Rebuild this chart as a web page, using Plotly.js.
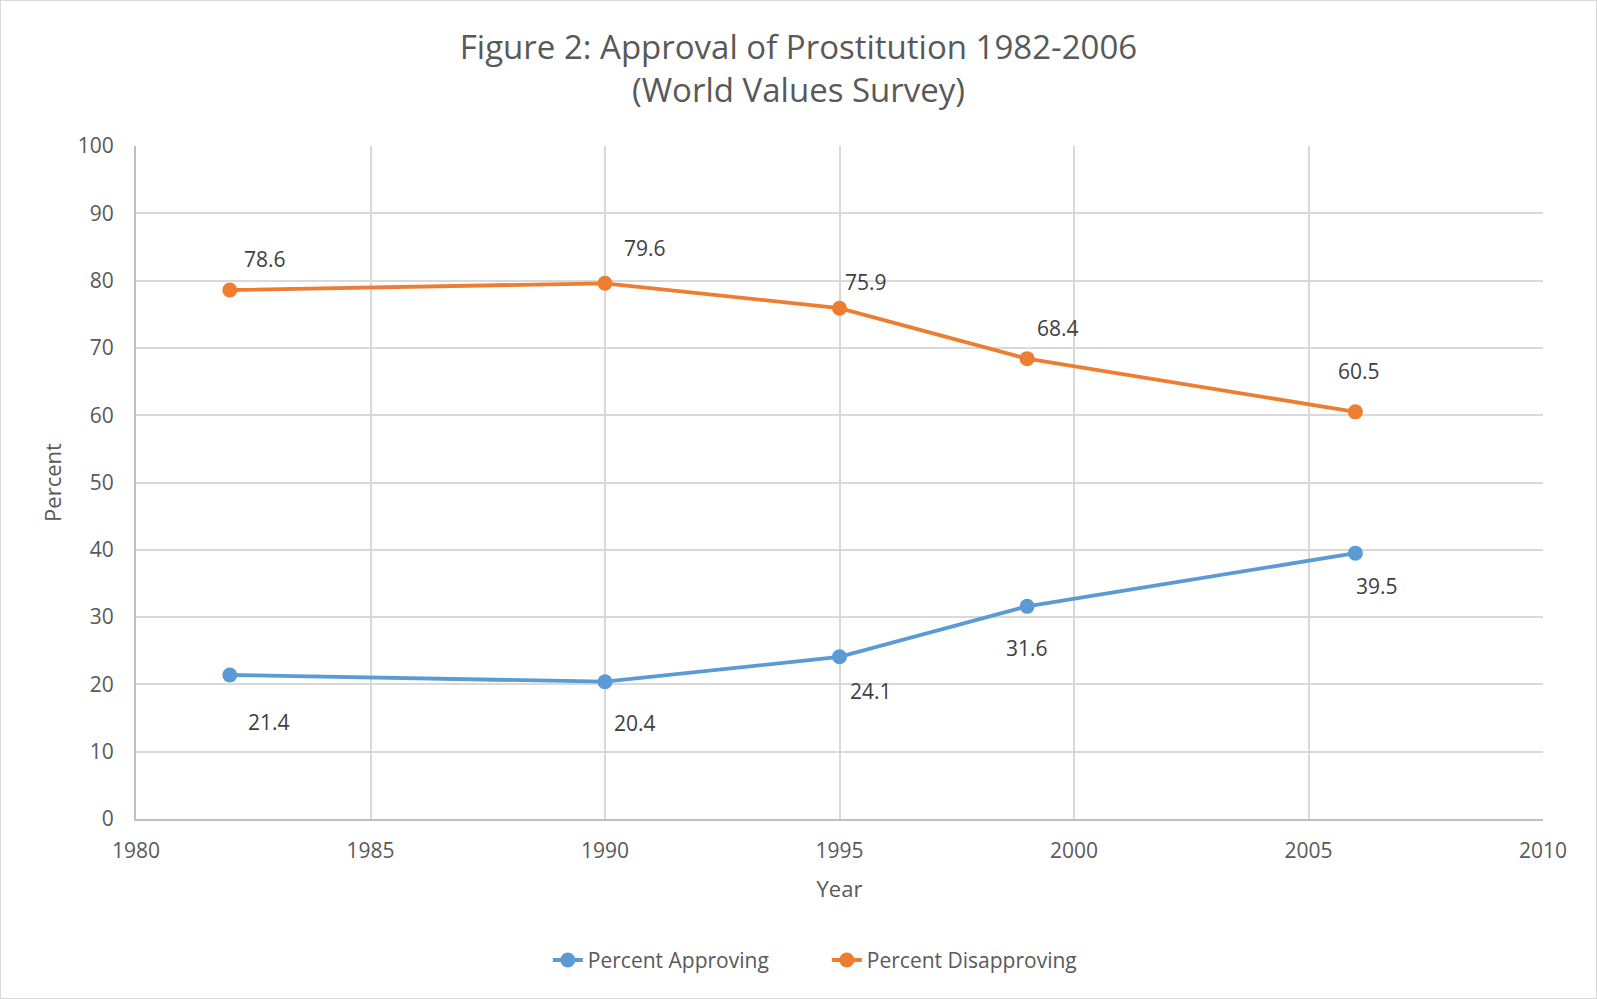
<!DOCTYPE html>
<html>
<head>
<meta charset="utf-8">
<script src="https://cdn.plot.ly/plotly-3.0.1.min.js"></script>
<style>
  html, body { margin: 0; padding: 0; background: #ffffff; }
  #wrap { position: relative; width: 1597px; height: 999px; }
  #chart { width: 1597px; height: 999px; }
  #frame { position: absolute; left: 0; top: 0; width: 1595px; height: 997px; border: 1px solid #d9d9d9; pointer-events: none; }
</style>
</head>
<body>
<div id="wrap"><div id="chart"></div><div id="frame"></div></div>
<script>
// Data
const years = [1982, 1990, 1995, 1999, 2006];
const approving = [21.4, 20.4, 24.1, 31.6, 39.5];
const disapproving = [78.6, 79.6, 75.9, 68.4, 60.5];
const seriesNames = ["Percent Approving", "Percent Disapproving"];
const xTicks = [1980, 1985, 1990, 1995, 2000, 2005, 2010];
const yTicks = [0, 10, 20, 30, 40, 50, 60, 70, 80, 90, 100];

// Label offsets (pixels) for data labels (styling)
const approvingLabelShift = [[39, -47], [30, -41], [31, -34], [0, -42], [22, -33]];
const disapprovingLabelShift = [[35, 31], [40, 35], [26, 26], [31, 31], [4, 41]];

const blue = "#5B9BD5";
const orange = "#ED7D31";
const font = "'Open Sans', 'Noto Sans', sans-serif";

const traces = [
  {
    x: years, y: approving, name: seriesNames[0], type: "scatter", mode: "lines+markers",
    line: { color: blue, width: 3.8 },
    marker: { color: blue, size: 15 }
  },
  {
    x: years, y: disapproving, name: seriesNames[1], type: "scatter", mode: "lines+markers",
    line: { color: orange, width: 3.8 },
    marker: { color: orange, size: 15 }
  }
];

const annotations = [];
function addLabels(vals, shifts) {
  vals.forEach((v, i) => {
    annotations.push({
      x: years[i], y: v, xref: "x", yref: "y", text: v.toFixed(1), showarrow: false,
      xshift: shifts[i][0], yshift: shifts[i][1],
      font: { family: font, size: 21, color: "#404040" }
    });
  });
}
addLabels(approving, approvingLabelShift);
addLabels(disapproving, disapprovingLabelShift);

const layout = {
  width: 1597, height: 999,
  paper_bgcolor: "#ffffff", plot_bgcolor: "#ffffff",
  margin: { l: 136, r: 54, t: 146, b: 180 },
  title: {
    text: "Figure 2: Approval of Prostitution 1982-2006<br>(World Values Survey)",
    font: { family: font, size: 33, color: "#595959" },
    x: 0.5, xanchor: "center", xref: "container", y: 0.941, yanchor: "middle", yref: "container"
  },
  font: { family: font, color: "#595959" },
  xaxis: {
    range: [1980, 2010], tickvals: xTicks, ticktext: xTicks.map(String),
    showgrid: true, gridcolor: "#d9d9d9", gridwidth: 2,
    showline: true, linecolor: "#bfbfbf", linewidth: 2,
    ticks: "", zeroline: false, ticklabelstandoff: 12,
    tickfont: { family: font, size: 21, color: "#595959" },
    title: { text: "Year", font: { family: font, size: 22, color: "#595959" }, standoff: 18 }
  },
  yaxis: {
    range: [0, 100], tickvals: yTicks, ticktext: yTicks.map(String),
    showgrid: true, gridcolor: "#d9d9d9", gridwidth: 2,
    showline: true, linecolor: "#bfbfbf", linewidth: 2,
    ticks: "", zeroline: false, ticklabelstandoff: 16,
    tickfont: { family: font, size: 21, color: "#595959" },
    title: { text: "Percent", font: { family: font, size: 22, color: "#595959" }, standoff: 10 }
  },
  legend: {
    orientation: "h", x: 0.491, xanchor: "center", y: -0.21, yanchor: "middle",
    font: { family: font, size: 21, color: "#595959" },
    entrywidth: 234, traceorder: "normal"
  },
  showlegend: true,
  annotations: annotations
};

Plotly.newPlot("chart", traces, layout, { displayModeBar: false, staticPlot: true });
</script>
</body>
</html>
